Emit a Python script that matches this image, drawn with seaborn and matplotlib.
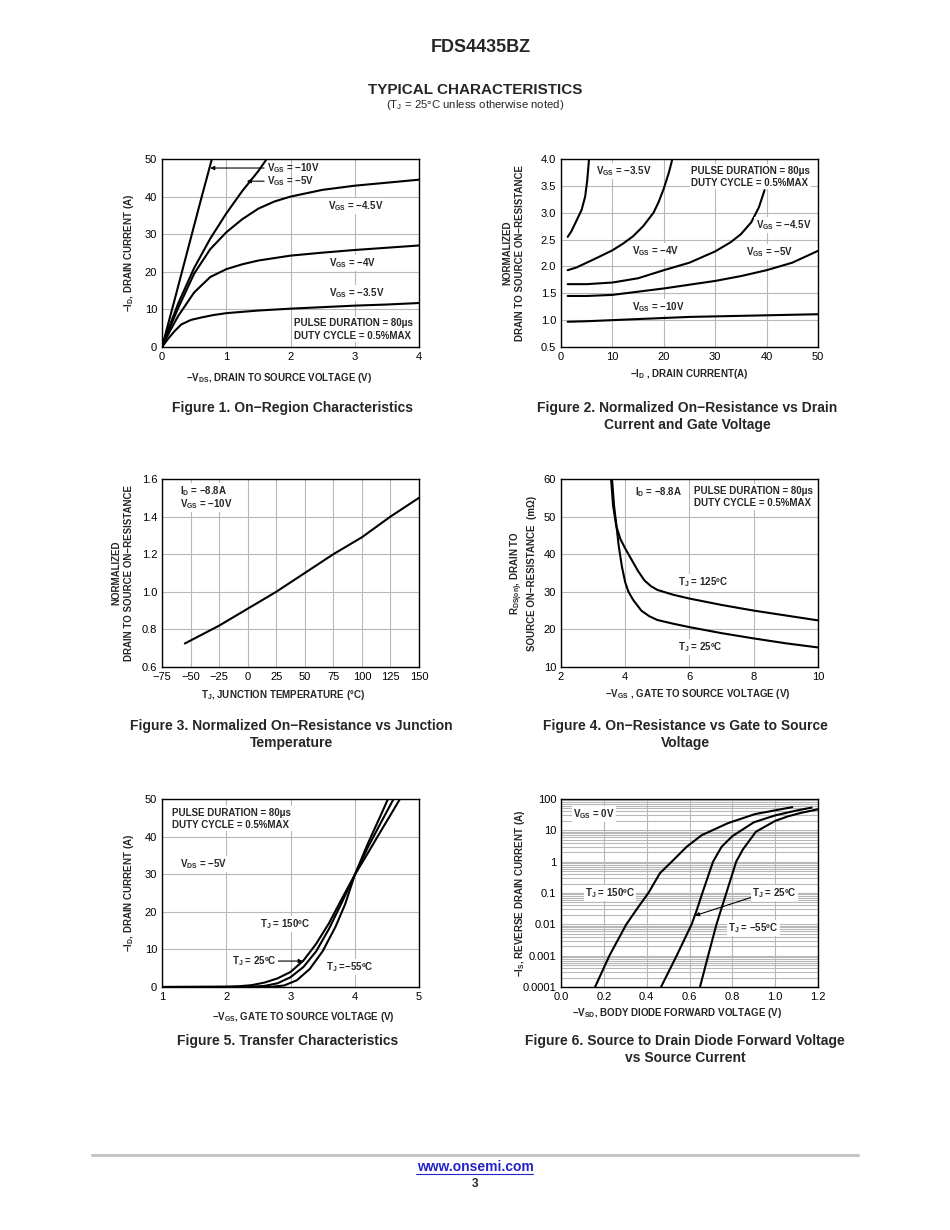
import matplotlib
matplotlib.use('Agg')
import matplotlib.pyplot as plt
import matplotlib.ticker as mticker
from matplotlib.lines import Line2D
import numpy as np
import pandas as pd
import seaborn as sns

# ---- Figure 1: on-region characteristics (-VDS vs -ID) ----
vds_10 = [0.0, 0.2, 0.4, 0.6, 0.8]
id_10 = [0.0, 12.8, 25.8, 38.8, 51.5]
vds_5 = [0.0, 0.1, 0.25, 0.5, 0.75, 1.0, 1.25, 1.5, 1.65]
id_5 = [0.0, 4.8, 11.5, 21.0, 28.8, 35.5, 41.5, 46.8, 50.5]
vds_45 = [0.0, 0.1, 0.25, 0.5, 0.75, 1.0, 1.25, 1.5, 1.75, 2.0, 2.5, 3.0, 3.5, 4.0]
id_45 = [0.0, 4.2, 10.3, 19.5, 26.0, 30.5, 34.0, 36.8, 38.7, 40.0, 41.8, 42.9, 43.7, 44.5]
vds_4 = [0.0, 0.1, 0.25, 0.5, 0.75, 1.0, 1.25, 1.5, 2.0, 2.5, 3.0, 3.5, 4.0]
id_4 = [0.0, 3.5, 8.2, 14.5, 18.6, 20.7, 22.0, 23.0, 24.3, 25.1, 25.8, 26.4, 27.0]
vds_35 = [0.0, 0.1, 0.2, 0.3, 0.45, 0.6, 0.8, 1.0, 1.5, 2.0, 2.5, 3.0, 3.5, 4.0]
id_35 = [0.0, 2.3, 4.3, 6.0, 7.2, 7.8, 8.5, 9.0, 9.7, 10.2, 10.6, 11.0, 11.3, 11.7]

# ---- Figure 2: normalized Rds(on) vs drain current ----
id2_10 = [1.3, 5, 10, 15, 20, 25, 30, 35, 40, 45, 50]
rn_10 = [0.97, 0.98, 1.0, 1.02, 1.04, 1.06, 1.07, 1.08, 1.09, 1.10, 1.11]
id2_5 = [1.3, 5, 10, 15, 20, 25, 30, 35, 40, 45, 50]
rn_5 = [1.45, 1.45, 1.47, 1.53, 1.59, 1.66, 1.73, 1.82, 1.93, 2.07, 2.29]
id2_45 = [1.3, 5, 10, 15, 20, 25, 30, 33, 35, 37, 38.5, 39.6]
rn_45 = [1.67, 1.67, 1.70, 1.78, 1.93, 2.07, 2.28, 2.45, 2.60, 2.82, 3.1, 3.42]
id2_4 = [1.3, 3, 5, 7, 10, 12, 14, 16, 18, 19, 20, 21, 21.8]
rn_4 = [1.93, 1.98, 2.07, 2.16, 2.30, 2.42, 2.56, 2.75, 3.0, 3.2, 3.45, 3.75, 4.05]
id2_35 = [1.3, 2, 3, 4, 4.7, 5.1, 5.5]
rn_35 = [2.55, 2.65, 2.85, 3.05, 3.3, 3.6, 4.05]

# ---- Figure 3: normalized Rds(on) vs junction temperature ----
tj3 = [-55, -25, 0, 25, 50, 75, 100, 125, 150]
rn3 = [0.725, 0.82, 0.91, 1.0, 1.1, 1.2, 1.29, 1.4, 1.5]

# ---- Figure 4: Rds(on) vs gate voltage ----
vgs4_25 = [3.58, 3.65, 3.72, 3.8, 3.9, 4.0, 4.1, 4.25, 4.5, 4.75, 5.0, 5.5, 6.0, 7.0, 8.0, 9.0, 10.0]
r4_25 = [61, 53, 48, 42, 36.5, 32.5, 30, 27.8, 25, 23.5, 22.5, 21.5, 20.6, 19, 17.6, 16.3, 15.2]
vgs4_125 = [3.55, 3.62, 3.72, 3.85, 4.0, 4.2, 4.4, 4.6, 4.8, 5.0, 5.5, 6.0, 7.0, 8.0, 9.0, 10.0]
r4_125 = [61, 53, 47.5, 44, 41.5, 38.5, 35.5, 33, 31.5, 30.5, 29.2, 28.2, 26.5, 25, 23.7, 22.4]

# ---- Figure 5: transfer characteristics ----
vgs5_150 = [1.0, 2.0, 2.2, 2.4, 2.6, 2.8, 3.0, 3.2, 3.4, 3.6, 3.8, 4.0, 4.2, 4.4, 4.6, 4.72]
id5_150 = [0.0, 0.05, 0.2, 0.5, 1.2, 2.3, 4.0, 7.0, 11.5, 17.0, 23.5, 29.8, 35.5, 41.3, 47.0, 50.5]
vgs5_25 = [1.0, 2.4, 2.6, 2.8, 3.0, 3.2, 3.4, 3.6, 3.8, 4.0, 4.2, 4.4, 4.62]
id5_25 = [0.0, 0.05, 0.3, 1.0, 2.6, 5.3, 9.5, 15.5, 22.5, 29.8, 37.0, 43.5, 50.5]
vgs5_55 = [1.0, 2.7, 2.9, 3.1, 3.3, 3.5, 3.7, 3.85, 4.0, 4.2, 4.4, 4.53]
id5_55 = [0.0, 0.05, 0.4, 1.8, 4.8, 9.5, 16.0, 22.0, 29.8, 38.0, 45.5, 50.5]

# ---- Figure 6: source to drain diode forward voltage ----
vsd_150 = [0.159, 0.226, 0.305, 0.36, 0.408, 0.462, 0.517, 0.587, 0.657, 0.78, 0.906, 1.08]
is_150 = [1e-4, 1e-3, 1e-2, 0.035, 0.1, 0.43, 1.0, 3.0, 7.0, 17, 33, 55]
vsd_25 = [0.467, 0.54, 0.61, 0.635, 0.66, 0.71, 0.75, 0.8, 0.9, 1.0, 1.1, 1.17]
is_25 = [1e-4, 1e-3, 1e-2, 0.03, 0.1, 1.0, 3.0, 6.5, 18, 30, 43, 53]
vsd_55 = [0.649, 0.687, 0.726, 0.772, 0.818, 0.85, 0.91, 1.0, 1.06, 1.12, 1.2]
is_55 = [1e-4, 1e-3, 1e-2, 0.1, 1.0, 2.5, 9, 20, 28, 36, 47]
is_ticks = [1e-4, 1e-3, 1e-2, 0.1, 1, 10, 100]
is_labels = ['0.0001', '0.001', '0.01', '0.1', '1', '10', '100']

sns.set_theme(style='whitegrid', rc={
    'grid.color': '#b8b8b8', 'grid.linewidth': 0.8,
    'axes.edgecolor': 'black', 'axes.linewidth': 1.0,
    'xtick.major.size': 0, 'ytick.major.size': 0,
    'xtick.minor.size': 0, 'ytick.minor.size': 0,
    'xtick.labelsize': 8, 'ytick.labelsize': 8,
    'xtick.color': 'black', 'ytick.color': 'black',
    'xtick.major.pad': 3.5, 'ytick.major.pad': 3.5,
})
plt.rcParams['font.family'] = ['Liberation Sans', 'DejaVu Sans']
plt.rcParams['mathtext.fontset'] = 'custom'
plt.rcParams['mathtext.rm'] = 'Liberation Sans'
plt.rcParams['mathtext.bf'] = 'Liberation Sans:bold'
plt.rcParams['mathtext.it'] = 'Liberation Sans:italic'

fig = plt.figure(figsize=(9.5, 12.3), dpi=100)
W, H = 950.0, 1230.0
FS = 7.0  # annotation size


def make_ax(left, top, right, bottom):
    return fig.add_axes([left / W, 1 - bottom / H, (right - left) / W, (bottom - top) / H])


def curve(ax, x, y):
    sns.lineplot(x=x, y=y, ax=ax, color='black', lw=1.5, sort=False, estimator=None)


def note(ax, x, y, s, box=True, **kw):
    bb = dict(fc='white', ec='none', pad=1.0) if box else None
    ax.text(x, y, s, fontsize=FS, weight='bold', ha='left', va='center', bbox=bb, **kw)


def labels(ax, xl, yl, xpos, ypos, ylx):
    ax.set_xlabel(xl, fontsize=7, weight='bold')
    ax.set_ylabel(yl, fontsize=7, weight='bold', linespacing=1.3)
    ax.xaxis.set_label_coords(xpos, ypos)
    ax.yaxis.set_label_coords(ylx, 0.5)


VGS = r'$\mathbf{V_{GS}}$'
TJ = r'$\mathbf{T_J}$'
PULSE = 'PULSE DURATION = 80μs\nDUTY CYCLE = 0.5%MAX'
arrow = dict(arrowstyle='-|>', color='black', lw=0.8, shrinkA=0, shrinkB=0, mutation_scale=6)

# Figure 1
ax1 = make_ax(162, 159, 419, 347)
for x, y in [(vds_10, id_10), (vds_5, id_5), (vds_45, id_45), (vds_4, id_4), (vds_35, id_35)]:
    curve(ax1, x, y)
ax1.set_xlim(0, 4)
ax1.set_ylim(0, 50)
ax1.set_xticks([0, 1, 2, 3, 4])
ax1.set_yticks([0, 10, 20, 30, 40, 50])
ax1.annotate(VGS + ' = −10V', xy=(0.75, 47.6), xytext=(1.64, 47.6), fontsize=FS, weight='bold',
             va='center', ha='left', arrowprops=arrow)
ax1.annotate(VGS + ' = −5V', xy=(1.32, 44.1), xytext=(1.64, 44.1), fontsize=FS, weight='bold',
             va='center', ha='left', arrowprops=arrow)
note(ax1, 2.58, 37.5, VGS + ' = −4.5V')
note(ax1, 2.60, 22.3, VGS + ' = −4V')
note(ax1, 2.60, 14.4, VGS + ' = −3.5V')
note(ax1, 2.05, 4.65, PULSE, linespacing=1.3)
labels(ax1, r'−$\mathbf{V_{DS}}$, DRAIN TO SOURCE VOLTAGE (V)', r'−$\mathbf{I_D}$, DRAIN CURRENT (A)',
       0.455, -0.13, -0.103)

# Figure 2
ax2 = make_ax(561, 159, 818, 347)
for x, y in [(id2_10, rn_10), (id2_5, rn_5), (id2_45, rn_45), (id2_4, rn_4), (id2_35, rn_35)]:
    curve(ax2, x, y)
ax2.set_xlim(0, 50)
ax2.set_ylim(0.5, 4.0)
ax2.set_xticks([0, 10, 20, 30, 40, 50])
ax2.set_yticks(np.arange(0.5, 4.01, 0.5))
ax2.yaxis.set_major_formatter(mticker.FormatStrFormatter('%.1f'))
note(ax2, 6.8, 3.78, VGS + ' = −3.5V')
note(ax2, 25.3, 3.67, PULSE, linespacing=1.3)
note(ax2, 37.9, 2.77, VGS + ' = −4.5V')
note(ax2, 13.8, 2.29, VGS + ' = −4V')
note(ax2, 36.0, 2.27, VGS + ' = −5V')
note(ax2, 13.8, 1.245, VGS + ' = −10V')
labels(ax2, r'−$\mathbf{I_D}$ , DRAIN CURRENT(A)', 'NORMALIZED\nDRAIN TO SOURCE ON−RESISTANCE',
       0.5, -0.108, -0.142)

# Figure 3
ax3 = make_ax(162, 479, 419, 667)
curve(ax3, tj3, rn3)
ax3.set_xlim(-75, 150)
ax3.set_ylim(0.6, 1.6)
ax3.set_xticks(np.arange(-75, 151, 25))
ax3.set_yticks([0.6, 0.8, 1.0, 1.2, 1.4, 1.6])
ax3.yaxis.set_major_formatter(mticker.FormatStrFormatter('%.1f'))
note(ax3, -59.5, 1.536, r'$\mathbf{I_D}$ = −8.8A')
note(ax3, -59.5, 1.467, VGS + ' = −10V')
labels(ax3, r'$\mathbf{T_J}$, JUNCTION TEMPERATURE (°C)', 'NORMALIZED\nDRAIN TO SOURCE ON−RESISTANCE',
       0.47, -0.11, -0.109)

# Figure 4
ax4 = make_ax(561, 479, 818, 667)
curve(ax4, vgs4_25, r4_25)
curve(ax4, vgs4_125, r4_125)
ax4.set_xlim(2, 10)
ax4.set_ylim(10, 60)
ax4.set_xticks([2, 4, 6, 8, 10])
ax4.set_yticks([10, 20, 30, 40, 50, 60])
note(ax4, 4.30, 56.5, r'$\mathbf{I_D}$ = −8.8A')
note(ax4, 6.14, 55.2, PULSE, linespacing=1.3)
note(ax4, 5.64, 32.6, TJ + ' = 125ºC')
note(ax4, 5.64, 15.3, TJ + ' = 25ºC')
labels(ax4, r'−$\mathbf{V_{GS}}$ , GATE TO SOURCE VOLTAGE (V)',
       r'$\mathbf{R_{DS(on)}}$, DRAIN TO' + '\nSOURCE ON−RESISTANCE  (mΩ)',
       0.533, -0.105, -0.093)

# Figure 5
ax5 = make_ax(162, 799, 419, 987)
for x, y in [(vgs5_150, id5_150), (vgs5_25, id5_25), (vgs5_55, id5_55)]:
    curve(ax5, x, y)
ax5.set_xlim(1, 5)
ax5.set_ylim(0, 50)
ax5.set_xticks([1, 2, 3, 4, 5])
ax5.set_yticks([0, 10, 20, 30, 40, 50])
note(ax5, 1.156, 44.7, PULSE, linespacing=1.3)
note(ax5, 1.28, 32.7, r'$\mathbf{V_{DS}}$ = −5V')
note(ax5, 2.53, 16.8, TJ + ' = 150ºC')
ax5.annotate(TJ + ' = 25ºC', xy=(3.19, 6.9), xytext=(2.09, 6.9), fontsize=FS, weight='bold',
             va='center', ha='left', arrowprops=arrow,
             bbox=dict(fc='white', ec='none', pad=1.0))
note(ax5, 3.55, 5.3, TJ + ' =−55ºC')
labels(ax5, r'−$\mathbf{V_{GS}}$, GATE TO SOURCE VOLTAGE (V)', r'−$\mathbf{I_D}$, DRAIN CURRENT (A)',
       0.55, -0.125, -0.103)

# Figure 6
ax6 = make_ax(561, 799, 818, 987)
ax6.set_yscale('log')
for x, y in [(vsd_150, is_150), (vsd_25, is_25), (vsd_55, is_55)]:
    curve(ax6, x, y)
ax6.set_xlim(0, 1.2)
ax6.set_ylim(1e-4, 100)
ax6.set_xticks(np.arange(0, 1.21, 0.2))
ax6.xaxis.set_major_formatter(mticker.FormatStrFormatter('%.1f'))
ax6.yaxis.set_major_locator(mticker.FixedLocator(is_ticks))
ax6.yaxis.set_major_formatter(mticker.FixedFormatter(is_labels))
ax6.yaxis.set_minor_locator(mticker.LogLocator(base=10, subs=np.arange(2, 10)))
ax6.yaxis.set_minor_formatter(mticker.NullFormatter())
ax6.grid(True, which='major', axis='both')
ax6.grid(True, which='minor', axis='y', color='#b8b8b8', lw=0.8)
note(ax6, 0.056, 33, VGS + ' = 0V')
note(ax6, 0.112, 0.1, TJ + ' = 150ºC')
ax6.annotate(TJ + ' = 25ºC', xy=(0.626, 0.019), xytext=(0.892, 0.1), fontsize=FS, weight='bold',
             va='center', ha='left',
             arrowprops=dict(arrowstyle='-|>', color='black', lw=0.8, shrinkA=0, shrinkB=0,
                             mutation_scale=6, relpos=(0.0, 0.2)),
             bbox=dict(fc='white', ec='none', pad=1.0))
note(ax6, 0.78, 0.0076, TJ + ' = −55ºC')
labels(ax6, r'−$\mathbf{V_{SD}}$, BODY DIODE FORWARD VOLTAGE (V)', r'−$\mathbf{I_S}$, REVERSE DRAIN CURRENT (A)',
       0.451, -0.1, -0.134)

for ax in [ax1, ax2, ax3, ax4, ax5, ax6]:
    for sp in ax.spines.values():
        sp.set_color('black')
        sp.set_linewidth(1.0)
    ax.set_axisbelow(True)


# page text
def ftext(x, y, s, **kw):
    fig.text(x / W, 1 - y / H, s, ha='center', va='center', **kw)


ftext(481, 47, 'FDS4435BZ', fontsize=13, weight='bold')
ftext(475, 90, 'TYPICAL CHARACTERISTICS', fontsize=11, weight='bold')
ftext(475, 105, r'($\mathregular{T_J}$ = 25°C unless otherwise noted)', fontsize=8.2)

cap = dict(fontsize=10, weight='bold')
ftext(292, 408, 'Figure 1. On−Region Characteristics', **cap)
ftext(687, 408, 'Figure 2. Normalized On−Resistance vs Drain', **cap)
ftext(687, 425, 'Current and Gate Voltage', **cap)
ftext(291, 726, 'Figure 3. Normalized On−Resistance vs Junction', **cap)
ftext(291, 743, 'Temperature', **cap)
ftext(685, 726, 'Figure 4. On−Resistance vs Gate to Source', **cap)
ftext(685, 743, 'Voltage', **cap)
ftext(288, 1041, 'Figure 5. Transfer Characteristics', **cap)
ftext(685, 1041, 'Figure 6. Source to Drain Diode Forward Voltage', **cap)
ftext(685, 1058, 'vs Source Current', **cap)

fig.add_artist(Line2D([92 / W, 858 / W], [1 - 1155 / H] * 2, color='#c4c4c4', lw=2.2))
ftext(475, 1167, 'www.onsemi.com', fontsize=10, weight='bold', color='#2323c8')
fig.add_artist(Line2D([416 / W, 533 / W], [1 - 1174 / H] * 2, color='#2323c8', lw=0.8))
ftext(475, 1184, '3', fontsize=8.5, weight='bold')

fig.savefig('out.png', dpi=100)
